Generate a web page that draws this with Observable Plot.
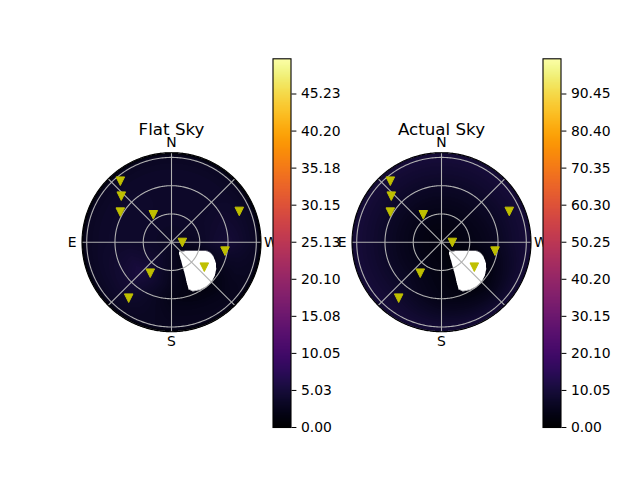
<!DOCTYPE html>
<html><head><meta charset="utf-8">
<script src="https://cdn.jsdelivr.net/npm/d3@7"></script>
<script src="https://cdn.jsdelivr.net/npm/@observablehq/plot@0.6"></script>
<style>
body{margin:0;background:#fff;}
#fig{position:relative;width:640px;height:480px;overflow:hidden;font-family:"DejaVu Sans";}
#fig svg{position:absolute;}
</style></head><body><div id="fig"></div>
<script>
// grid of sky brightness samples (azimuth deg x zenith deg)
const azGrid = [0, 45, 90, 135, 180, 225, 270, 315];
const zenGrid = [0, 15, 30, 45, 60, 75, 91, 95];
const flatSky = [
  [3.2, 3.2, 3.2, 3.2, 3.2, 3.2, 3.2, 3.2],
  [3.5, 3.5, 3.5, 3.6, 3.0, 1.5, 3.0, 3.5],
  [3.6, 3.7, 3.7, 4.5, 2.8, 1.0, 3.4, 3.6],
  [3.6, 3.8, 3.8, 5.5, 2.5, 0.8, 4.2, 3.6],
  [3.6, 3.8, 3.8, 4.8, 2.0, 1.2, 4.8, 3.6],
  [3.6, 3.6, 3.6, 4.0, 2.5, 2.2, 4.0, 3.6],
  [3.1, 3.1, 3.1, 3.1, 2.9, 2.7, 3.1, 3.1],
  [0.3, 0.3, 0.3, 0.3, 0.3, 0.3, 0.3, 0.3]
];
const actualSky = [
  [2.5, 2.5, 2.5, 2.5, 2.5, 2.5, 2.5, 2.5],
  [3.2, 3.2, 3.2, 3.2, 2.8, 1.2, 3.0, 3.2],
  [4.2, 4.2, 4.2, 4.2, 3.2, 0.8, 3.8, 4.2],
  [5.5, 5.5, 5.5, 5.5, 3.5, 0.8, 4.8, 5.5],
  [7.0, 7.0, 7.0, 7.0, 4.0, 2.0, 6.2, 7.0],
  [8.5, 8.5, 8.5, 8.5, 6.5, 5.0, 8.2, 8.5],
  [10.0, 10.0, 10.0, 10.0, 9.5, 9.0, 9.8, 10.0],
  [8.5, 8.5, 8.5, 8.5, 8.5, 8.5, 8.5, 8.5]
];
const flatMax = 50;
const actualMax = 100;
// markers (azimuth, zenith)
const starAz = [40.0, 47.5, 59.6, 33.6, 294.4, 268.4, 260.5, 232.7, 145.6, 142.6];
const starZen = [84.5, 72.3, 63.0, 34.9, 79.0, 11.5, 57.6, 43.8, 39.9, 74.8];
// masked (no data) region outline
const blobAz = [217.7, 239.3, 250.7, 256, 255.4, 251.5, 245.7, 239.3, 231.8, 224.9, 217.5, 210.1, 203.4, 200, 200.4, 202.1, 203.9, 207.4, 211.8];
const blobZen = [12.5, 17.9, 27.6, 37.7, 42.2, 46.8, 51.5, 55.3, 58.3, 59.9, 60.2, 58.9, 56.7, 53.4, 47.1, 38.9, 30.9, 21.9, 15.7];
// colorbar ticks
const flatTicks = [0, 5.025, 10.05, 15.075, 20.1, 25.125, 30.15, 35.175, 40.2, 45.225];
const flatTickLabels = ["0.00", "5.03", "10.05", "15.08", "20.10", "25.13", "30.15", "35.18", "40.20", "45.23"];
const actualTicks = [0, 10.05, 20.1, 30.15, 40.2, 50.25, 60.3, 70.35, 80.4, 90.45];
const actualTickLabels = ["0.00", "10.05", "20.10", "30.15", "40.20", "50.25", "60.30", "70.35", "80.40", "90.45"];
// polar axis
const dirLabels = ["N", "E", "S", "W"];
const dirAz = [0, 90, 180, 270];
const ringZen = [30, 60, 90];
const spokeAz = [0, 45, 90, 135, 180, 225, 270, 315];
const rMax = 95;

const fig = document.getElementById("fig");
const rad = Math.PI / 180;
const toXY = (az, zen) => [-zen * Math.sin(az * rad), zen * Math.cos(az * rad)];
const blobXY = blobAz.map((a, i) => toXY(a, blobZen[i]));

function sample(grid, az, zen) {
  const n = azGrid.length, step = 360 / n;
  let zi = d3.bisectRight(zenGrid, zen) - 1;
  zi = Math.max(0, Math.min(zenGrid.length - 2, zi));
  const tz = Math.max(0, Math.min(1, (zen - zenGrid[zi]) / (zenGrid[zi + 1] - zenGrid[zi])));
  const a = az / step, a0 = Math.floor(a), ta = a - a0;
  const ai = ((a0 % n) + n) % n, aj = (ai + 1) % n;
  const v0 = grid[zi][ai] * (1 - ta) + grid[zi][aj] * ta;
  const v1 = grid[zi + 1][ai] * (1 - ta) + grid[zi + 1][aj] * ta;
  return v0 * (1 - tz) + v1 * tz;
}

const triDown = {
  draw(ctx, size) {
    const r = Math.sqrt(size / Math.PI);
    ctx.moveTo(0, r); ctx.lineTo(r, -r); ctx.lineTo(-r, -r); ctx.closePath();
  }
};

const baseStyle = {fontFamily: "DejaVu Sans", fontSize: "13.9px", color: "black", background: "transparent", overflow: "visible"};

function polar(title, grid, vmax, left, top) {
  const R = 89.5, W = 260, H = 280, cx = 130, cy = 141.7;
  const circle = (zen) => d3.range(0, 361, 1).map(a => { const [x, y] = toXY(a, zen); return {x, y, zen}; });
  const rings = ringZen.flatMap(z => circle(z));
  const spokes = spokeAz.map(a => { const [x, y] = toXY(a, rMax); return {x2: x, y2: y}; });
  const stars = starAz.map((a, i) => { const [x, y] = toXY(a, starZen[i]); return {x, y}; });
  const labels = dirLabels.map((t, i) => { const [x, y] = toXY(dirAz[i], 105.5); return {t, x, y}; });
  const svg = Plot.plot({
    width: W, height: H,
    marginLeft: cx - R, marginRight: W - cx - R, marginTop: cy - R, marginBottom: H - cy - R,
    x: {domain: [-rMax, rMax], axis: null},
    y: {domain: [-rMax, rMax], axis: null},
    color: {type: "linear", scheme: "inferno", domain: [0, vmax]},
    style: baseStyle,
    marks: [
      Plot.raster({
        x1: -rMax, x2: rMax, y1: -rMax, y2: rMax, pixelSize: 0.5,
        fill: (x, y) => {
          const zen = Math.hypot(x, y);
          if (zen > rMax) return NaN;
          if (d3.polygonContains(blobXY, [x, y])) return NaN;
          let az = Math.atan2(-x, y) / rad;
          if (az < 0) az += 360;
          return sample(grid, az, zen);
        }
      }),
      Plot.line(rings, {x: "x", y: "y", z: "zen", stroke: "#b0b0b0", strokeWidth: 1.1}),
      Plot.link(spokes, {x1: () => 0, y1: () => 0, x2: "x2", y2: "y2", stroke: "#b0b0b0", strokeWidth: 1.1}),
      Plot.line(circle(rMax), {x: "x", y: "y", stroke: "black", strokeWidth: 1.1}),
      Plot.dot(stars, {x: "x", y: "y", symbol: triDown, r: 4.3, fill: "#bfbf00", stroke: "#bfbf00", strokeWidth: 1}),
      Plot.text(labels, {x: "x", y: "y", text: "t", fontSize: 13.9, fill: "black"}),
      Plot.text([title], {text: d => d, frameAnchor: "top", lineAnchor: "bottom", dy: -18, fontSize: 16.7, fill: "black"})
    ]
  });
  svg.style.left = left + "px";
  svg.style.top = top + "px";
  fig.appendChild(svg);
}

function colorbar(vmax, ticks, tickLabels, left, top) {
  const svg = Plot.plot({
    width: 90, height: 390,
    marginLeft: 10.5, marginRight: 61.5, marginTop: 10.3, marginBottom: 11,
    x: {domain: [0, 1], axis: null},
    y: {domain: [0, vmax], axis: null},
    color: {type: "linear", scheme: "inferno", domain: [0, vmax]},
    style: baseStyle,
    marks: [
      Plot.raster({x1: 0, x2: 1, y1: 0, y2: vmax, pixelSize: 0.5, fill: (x, y) => y}),
      Plot.frame({stroke: "black", strokeWidth: 1.1}),
      Plot.axisY(ticks, {anchor: "right", tickSize: 4.9, tickPadding: 5, fontSize: 13.9,
        tickFormat: d => tickLabels[ticks.indexOf(d)], stroke: "black", fill: "black"})
    ]
  });
  svg.style.left = left + "px";
  svg.style.top = top + "px";
  fig.appendChild(svg);
}

polar("Flat Sky", flatSky, flatMax, 40.5, 100);
colorbar(flatMax, flatTicks, flatTickLabels, 262, 48);
polar("Actual Sky", actualSky, actualMax, 310.7, 100);
colorbar(actualMax, actualTicks, actualTickLabels, 532, 48);
</script></body></html>
